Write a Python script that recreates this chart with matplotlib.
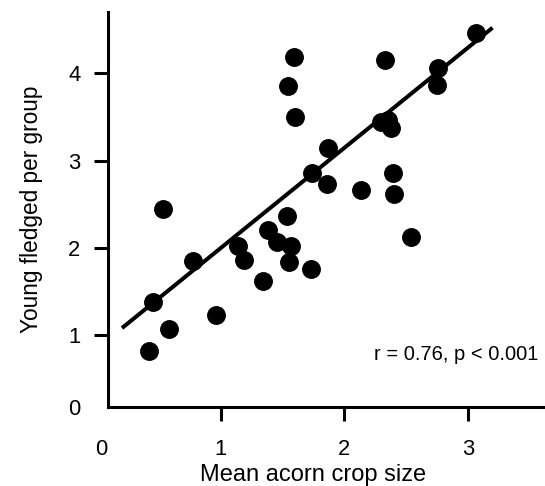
import matplotlib

matplotlib.use("Agg")
import matplotlib.pyplot as plt  # noqa: E402
import matplotlib.transforms as mtransforms  # noqa: E402
import numpy as np  # noqa: E402

plt.rcParams["font.family"] = ["Liberation Sans", "DejaVu Sans"]

# --- data -------------------------------------------------------------------

crop_size = [
    3.064, 2.761, 2.748, 2.330, 1.593, 1.542, 1.598, 1.870, 1.736, 1.857,
    2.135, 2.297, 2.354, 2.378, 2.397, 2.402, 2.538, 0.534, 1.534, 1.385,
    1.453, 1.568, 1.142, 1.190, 1.555, 1.730, 0.772, 1.339, 0.453, 0.959,
    0.583, 0.421,
]
young_fledged = [
    4.460, 4.058, 3.867, 4.154, 4.192, 3.859, 3.497, 3.141, 2.861, 2.726,
    2.663, 3.443, 3.466, 3.374, 2.854, 2.614, 2.120, 2.442, 2.365, 2.204,
    2.070, 2.021, 2.021, 1.860, 1.841, 1.757, 1.849, 1.623, 1.375, 1.233,
    1.072, 0.820,
]
fit_slope = 1.148
fit_intercept = 0.850
fit_range = [0.2, 3.2]
x_ticks = [1, 2, 3]
y_ticks = [1, 2, 3, 4]
stats_text = "r = 0.76, p < 0.001"

# --- figure -----------------------------------------------------------------

fig = plt.figure(figsize=(5.45, 4.86), dpi=100)
ax = fig.add_axes([0.1976, 0.1632, 0.8024, 0.8121])

ax.scatter(crop_size, young_fledged, s=185, color="black", zorder=3,
           linewidths=0)
fx = np.array(fit_range)
ax.plot(fx, fit_intercept + fit_slope * fx, color="black", lw=2.9,
        solid_capstyle="butt", zorder=2)

x_min, x_max = 0.084, 3.625
y_min, y_max = 0.178, 4.704
ax.set_xlim(x_min, x_max)
ax.set_ylim(y_min, y_max)

for side in ("top", "right"):
    ax.spines[side].set_visible(False)
for side in ("left", "bottom"):
    ax.spines[side].set_linewidth(2.2)

tick_len, tick_fs = 10, 15.8
x_pad, y_pad = 13, 9.5
ax.tick_params(direction="out", length=tick_len, width=2.2,
               labelsize=tick_fs)
ax.tick_params(axis="x", pad=x_pad)
ax.tick_params(axis="y", pad=y_pad)
ax.set_xticks(x_ticks)
ax.set_xticklabels([str(t) for t in x_ticks])
# "0" on the y axis sits at the corner, without a tick mark
ax.set_yticks([y_min] + y_ticks)
ax.set_yticklabels(["0"] + [str(t) for t in y_ticks])
ax.yaxis.get_major_ticks()[0].tick1line.set_visible(False)

# "0" on the x axis sits at x = 0, left of the spine
zero_tr = mtransforms.offset_copy(ax.get_xaxis_transform(), fig=fig,
                                  y=-(tick_len + x_pad), units="points")
ax.text(0.03, 0, "0", transform=zero_tr, ha="center", va="top",
        fontsize=tick_fs, clip_on=False)

ax.set_xlabel("Mean acorn crop size", fontsize=17, labelpad=3)
ax.xaxis.label.set_x(0.469)
ax.set_ylabel("Young fledged per group", fontsize=16.3, labelpad=18)

ax.text(0.984, 0.133, stats_text, transform=ax.transAxes,
        ha="right", va="center", fontsize=14.5)

fig.savefig("out.png", dpi=100, facecolor="white")
plt.close(fig)
